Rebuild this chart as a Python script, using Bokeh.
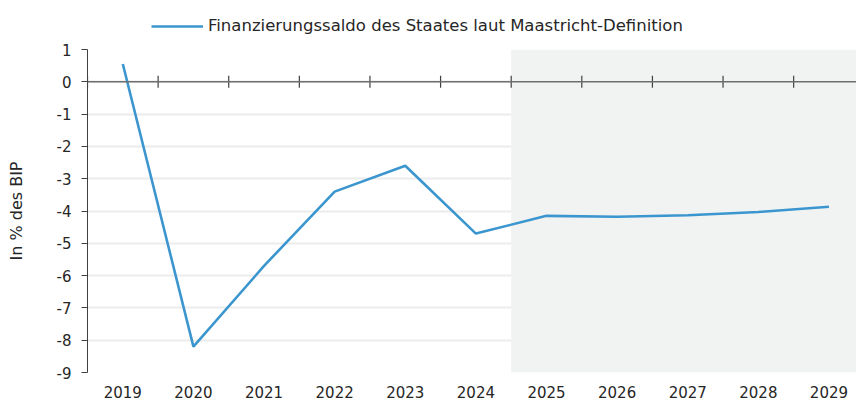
import math
from bokeh.plotting import figure
from bokeh.layouts import column
from bokeh.models import (Range1d, BoxAnnotation, Span, Legend, LegendItem,
                          FixedTicker, ColumnDataSource, PrintfTickFormatter)
from bokeh.embed import file_html
from bokeh.resources import INLINE

years = [2019, 2020, 2021, 2022, 2023, 2024, 2025, 2026, 2027, 2028, 2029]
saldo = [0.55, -8.2, -5.7, -3.4, -2.6, -4.7, -4.15, -4.18, -4.13, -4.03, -3.87]
forecast_start = 2025
series_name = "Finanzierungssaldo des Staates laut Maastricht-Definition"
y_label = "In % des BIP"
y_ticks = [1, 0, -1, -2, -3, -4, -5, -6, -7, -8, -9]

FONT = "DejaVu Sans"
TXT = "#262626"
LINE_COLOR = "#3b96cf"
Y_MIN, Y_MAX = min(y_ticks), max(y_ticks)

src = ColumnDataSource(dict(x=years, y=saldo))

# ---- legend strip on top ----
top = figure(width=856, height=39, output_backend="svg", toolbar_location=None,
             x_axis_type=None, y_axis_type=None,
             min_border_left=0, min_border_right=0, min_border_top=0,
             min_border_bottom=0)
top.outline_line_color = None
top.xgrid.grid_line_color = None
top.ygrid.grid_line_color = None
leg_r = top.line("x", "y", source=src, line_color=LINE_COLOR, line_width=2.6,
                 visible=False)
legend = Legend(items=[LegendItem(label=series_name, renderers=[leg_r])],
                orientation="horizontal", location=(64, 4),
                label_text_font=FONT, label_text_font_size="16.5px",
                label_text_color=TXT, glyph_width=52, glyph_height=14,
                label_standoff=5, padding=2, margin=0, spacing=0,
                border_line_color=None, background_fill_alpha=0,
                inactive_fill_alpha=0)
top.add_layout(legend, "center")

# ---- main chart ----
p = figure(width=856, height=366, output_backend="svg", toolbar_location=None,
           x_range=Range1d(years[0] - 0.5, years[-1] + 0.39),
           y_range=Range1d(Y_MIN, Y_MAX),
           min_border_left=87, min_border_right=0, min_border_top=10,
           min_border_bottom=33)
p.outline_line_color = None
p.background_fill_color = "white"

# forecast shading
p.add_layout(BoxAnnotation(left=forecast_start - 0.5,
                           fill_color="#f1f3f3", fill_alpha=1.0,
                           line_color=None, level="underlay"))

# grid
p.xgrid.grid_line_color = None
p.ygrid.ticker = FixedTicker(ticks=y_ticks)
p.ygrid.grid_line_color = "#ececec"
p.ygrid.grid_line_width = 2

# zero line with category boundary ticks
p.add_layout(Span(location=0, dimension="width", line_color="#6e6e6e",
                  line_width=1.5))
bounds = [y - 0.5 for y in years]
p.scatter(x=bounds, y=[0] * len(bounds), marker="dash", angle=math.pi / 2,
          size=12, line_color="#404040", line_width=1.2)

# y axis
p.yaxis.ticker = FixedTicker(ticks=y_ticks)
p.yaxis.formatter = PrintfTickFormatter(format="%d")
p.yaxis.axis_line_color = "#404040"
p.yaxis.major_tick_line_color = "#404040"
p.yaxis.major_tick_out = 6
p.yaxis.major_tick_in = 0
p.yaxis.minor_tick_line_color = None
p.yaxis.major_label_text_font = FONT
p.yaxis.major_label_text_font_size = "15px"
p.yaxis.major_label_text_color = TXT
p.yaxis.major_label_standoff = 10
p.yaxis.axis_label = y_label
p.yaxis.axis_label_text_font = FONT
p.yaxis.axis_label_text_font_size = "16px"
p.yaxis.axis_label_text_font_style = "normal"
p.yaxis.axis_label_text_color = TXT
p.yaxis.axis_label_standoff = 28

# x axis (labels only)
p.xaxis.ticker = FixedTicker(ticks=years)
p.xaxis.axis_line_color = None
p.xaxis.major_tick_line_color = None
p.xaxis.minor_tick_line_color = None
p.xaxis.major_tick_out = 0
p.xaxis.major_label_standoff = 13
p.xaxis.major_label_text_font = FONT
p.xaxis.major_label_text_font_size = "15px"
p.xaxis.major_label_text_color = TXT

p.line("x", "y", source=src, line_color=LINE_COLOR, line_width=2.6)

layout = column(top, p, spacing=0)
open("out.html", "w").write(file_html(layout, INLINE))
